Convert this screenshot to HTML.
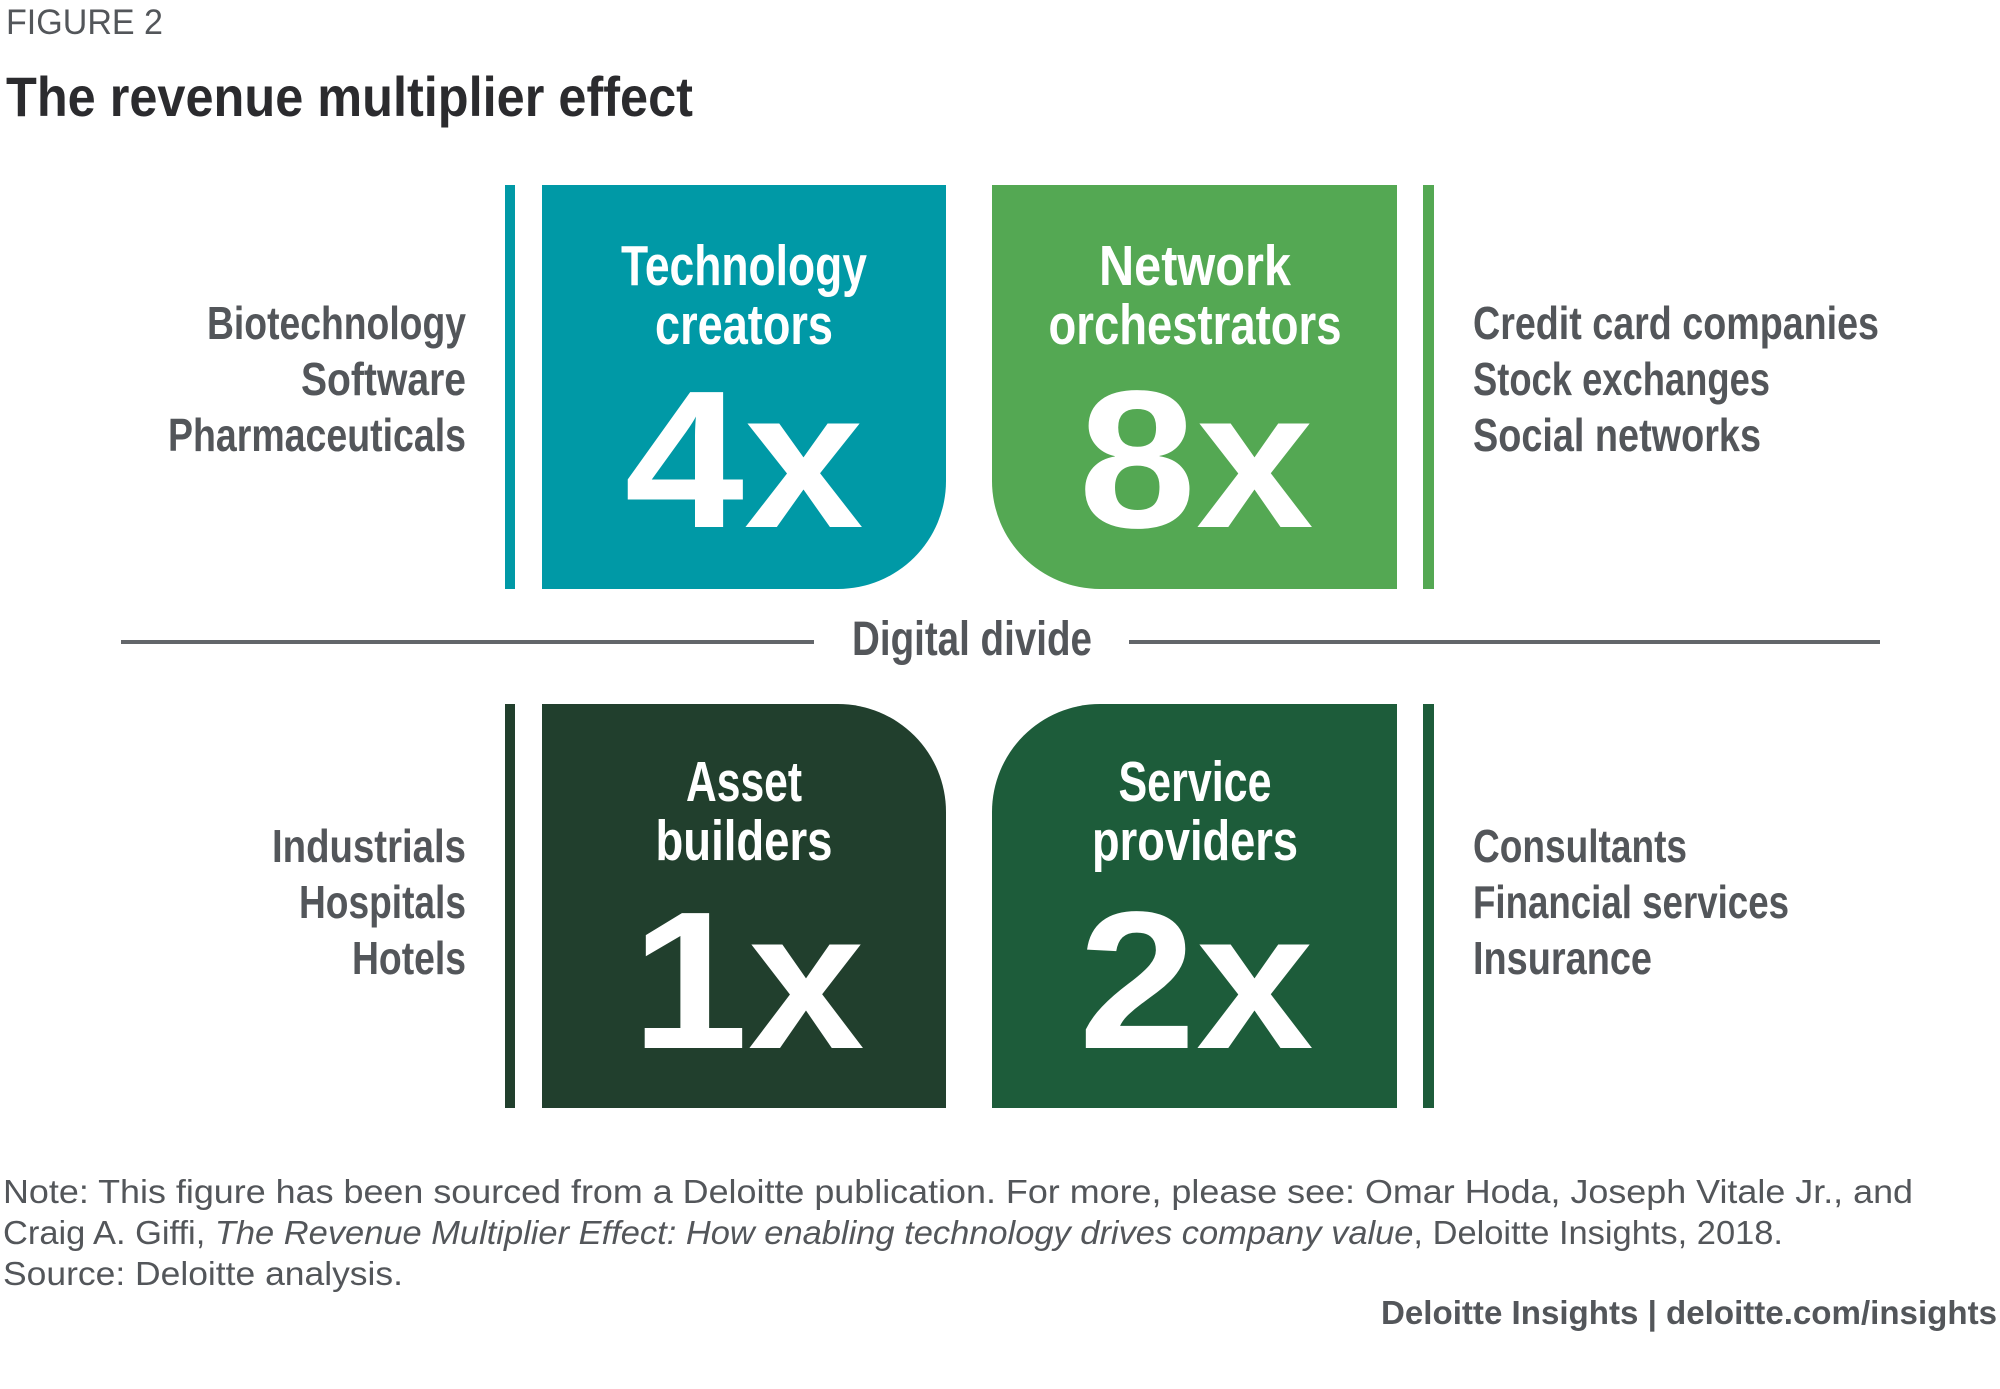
<!DOCTYPE html>
<html><head><meta charset="utf-8"><style>html,body{margin:0;padding:0;background:#fff}svg{display:block}</style></head>
<body>
<svg width="2000" height="1389" viewBox="0 0 2000 1389" xmlns="http://www.w3.org/2000/svg" font-family="'Liberation Sans', sans-serif">
<rect width="2000" height="1389" fill="#fff"/>
<text x="6" y="34" font-size="35" fill="#53565a" textLength="157" lengthAdjust="spacingAndGlyphs">FIGURE 2</text>
<text x="6" y="116" font-size="56" font-weight="bold" fill="#2b2b2e" textLength="687" lengthAdjust="spacingAndGlyphs">The revenue multiplier effect</text>

<!-- bars -->
<rect x="505" y="185" width="10" height="404" fill="#0099a6"/>
<rect x="1423" y="185" width="11" height="404" fill="#54a853"/>
<rect x="505" y="704" width="10" height="404" fill="#213f2d"/>
<rect x="1423" y="704" width="11" height="404" fill="#1d5c3a"/>

<!-- boxes -->
<path d="M542 185 H946 V481 A108 108 0 0 1 838 589 H542 Z" fill="#0099a6"/>
<path d="M992 185 H1397 V589 H1100 A108 108 0 0 1 992 481 Z" fill="#54a853"/>
<path d="M542 704 H838 A108 108 0 0 1 946 812 V1108 H542 Z" fill="#213f2d"/>
<path d="M1100 704 H1397 V1108 H992 V812 A108 108 0 0 1 1100 704 Z" fill="#1d5c3a"/>

<g fill="#fff" font-weight="bold" text-anchor="middle">
<text x="744" y="285" font-size="57" textLength="246" lengthAdjust="spacingAndGlyphs">Technology</text>
<text x="744" y="344" font-size="57" textLength="178" lengthAdjust="spacingAndGlyphs">creators</text>
<text x="744" y="527" font-size="196" textLength="239" lengthAdjust="spacingAndGlyphs">4x</text>
<text x="1195" y="285" font-size="57" textLength="192" lengthAdjust="spacingAndGlyphs">Network</text>
<text x="1195" y="344" font-size="57" textLength="293" lengthAdjust="spacingAndGlyphs">orchestrators</text>
<text x="1196" y="527" font-size="196" textLength="235" lengthAdjust="spacingAndGlyphs">8x</text>
<text x="744" y="801" font-size="57" textLength="116" lengthAdjust="spacingAndGlyphs">Asset</text>
<text x="744" y="860" font-size="57" textLength="177" lengthAdjust="spacingAndGlyphs">builders</text>
<text x="748" y="1048" font-size="196" textLength="233" lengthAdjust="spacingAndGlyphs">1x</text>
<text x="1195" y="801" font-size="57" textLength="153" lengthAdjust="spacingAndGlyphs">Service</text>
<text x="1195" y="860" font-size="57" textLength="206" lengthAdjust="spacingAndGlyphs">providers</text>
<text x="1196" y="1048" font-size="196" textLength="235" lengthAdjust="spacingAndGlyphs">2x</text>
</g>

<!-- divider -->
<rect x="121" y="640" width="693" height="4" fill="#63666a"/>
<rect x="1129" y="640" width="751" height="4" fill="#63666a"/>
<text x="972" y="655" font-size="48" font-weight="bold" fill="#53565a" text-anchor="middle" textLength="240" lengthAdjust="spacingAndGlyphs">Digital divide</text>

<g fill="#53565a" font-weight="bold" font-size="46" text-anchor="end">
<text x="466" y="339" textLength="259" lengthAdjust="spacingAndGlyphs">Biotechnology</text>
<text x="466" y="395" textLength="165" lengthAdjust="spacingAndGlyphs">Software</text>
<text x="466" y="451" textLength="298" lengthAdjust="spacingAndGlyphs">Pharmaceuticals</text>
<text x="466" y="862" textLength="194" lengthAdjust="spacingAndGlyphs">Industrials</text>
<text x="466" y="918" textLength="167" lengthAdjust="spacingAndGlyphs">Hospitals</text>
<text x="466" y="974" textLength="114" lengthAdjust="spacingAndGlyphs">Hotels</text>
</g>
<g fill="#53565a" font-weight="bold" font-size="46">
<text x="1473" y="339" textLength="406" lengthAdjust="spacingAndGlyphs">Credit card companies</text>
<text x="1473" y="395" textLength="297" lengthAdjust="spacingAndGlyphs">Stock exchanges</text>
<text x="1473" y="451" textLength="288" lengthAdjust="spacingAndGlyphs">Social networks</text>
<text x="1473" y="862" textLength="214" lengthAdjust="spacingAndGlyphs">Consultants</text>
<text x="1473" y="918" textLength="316" lengthAdjust="spacingAndGlyphs">Financial services</text>
<text x="1473" y="974" textLength="179" lengthAdjust="spacingAndGlyphs">Insurance</text>
</g>

<g fill="#53565a" font-size="33">
<text x="3" y="1203" textLength="1910" lengthAdjust="spacingAndGlyphs">Note: This figure has been sourced from a Deloitte publication. For more, please see: Omar Hoda, Joseph Vitale Jr., and</text>
<text x="3" y="1244" textLength="1780" lengthAdjust="spacingAndGlyphs">Craig A. Giffi, <tspan font-style="italic">The Revenue Multiplier Effect: How enabling technology drives company value</tspan>, Deloitte Insights, 2018.</text>
<text x="3" y="1285" textLength="400" lengthAdjust="spacingAndGlyphs">Source: Deloitte analysis.</text>
<text x="1997" y="1324" text-anchor="end" font-weight="bold" textLength="616" lengthAdjust="spacingAndGlyphs">Deloitte Insights | deloitte.com/insights</text>
</g>
</svg>
</body></html>
